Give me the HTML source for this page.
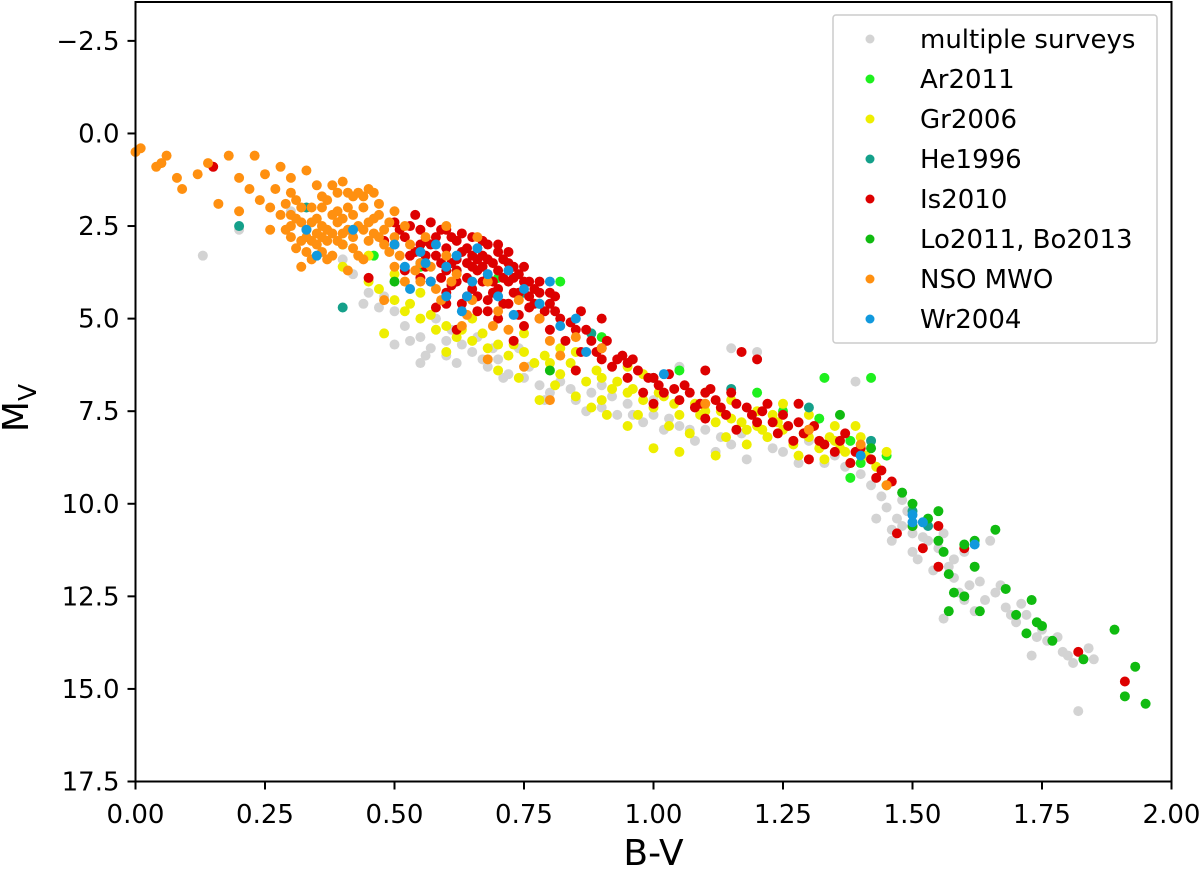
<!DOCTYPE html>
<html><head><meta charset="utf-8"><style>body{margin:0;background:#fff}svg{display:block;font-family:"DejaVu Sans","Liberation Sans",sans-serif}</style></head>
<body>
<svg id="chart" width="1200" height="870" viewBox="0 0 1200 870" xmlns="http://www.w3.org/2000/svg">
<g id="marks"></g>
<g id="axes"></g>
</svg>
<script>
const xTicks=[0,0.25,0.5,0.75,1.0,1.25,1.5,1.75,2.0];
const xTickLabels=["0.00","0.25","0.50","0.75","1.00","1.25","1.50","1.75","2.00"];
const yTicks=[-2.5,0,2.5,5,7.5,10,12.5,15,17.5];
const yTickLabels=["\u22122.5","0.0","2.5","5.0","7.5","10.0","12.5","15.0","17.5"];
const seriesNames=["multiple surveys","Ar2011","Gr2006","He1996","Is2010","Lo2011, Bo2013","NSO MWO","Wr2004"];
const multiSurveys=[[0.13,3.3],[0.2,2.6],[0.33,2.6],[0.4,3.4],[0.45,4.3],[0.48,4.4],[0.5,4.8],[0.52,5.2],[0.55,5.5],[0.57,5.8],[0.6,5.6],[0.6,6.0],[0.62,6.2],[0.65,5.9],[0.68,6.3],[0.7,6.1],[0.72,6.5],[0.75,6.6],[0.78,6.8],[0.8,7.0],[0.82,6.7],[0.85,7.2],[0.88,7.0],[0.9,7.4],[0.93,7.6],[0.95,7.3],[0.98,7.8],[1.0,7.6],[1.02,8.0],[1.05,7.9],[1.08,8.3],[1.1,8.0],[1.12,8.6],[1.15,8.4],[1.18,8.8],[1.2,5.9],[1.15,5.8],[1.22,8.2],[1.25,8.6],[1.3,8.3],[1.35,8.7],[1.39,6.7],[1.4,9.2],[1.42,9.5],[1.44,9.8],[1.45,10.1],[1.47,10.4],[1.48,9.9],[1.5,10.8],[1.52,10.5],[1.53,11.0],[1.55,11.2],[1.56,10.8],[1.58,11.5],[1.6,11.3],[1.62,11.7],[1.63,12.1],[1.65,11.0],[1.66,12.4],[1.68,12.8],[1.7,13.2],[1.72,13.0],[1.75,13.4],[1.78,13.6],[1.8,14.1],[1.82,15.6],[1.84,13.9],[1.85,14.2],[1.56,13.1],[1.6,12.6],[1.73,14.1],[1.48,10.6],[1.5,11.3],[0.3,2.1],[0.35,3.0],[0.42,3.8],[0.58,5.0],[0.66,5.5],[0.74,5.8],[0.55,6.2],[0.5,5.7],[1.46,11.0],[1.54,11.8],[1.64,12.6],[1.58,12.0],[1.81,14.3],[0.9,6.8],[1.0,7.2],[1.05,6.3],[1.28,8.9],[0.53,5.6],[0.56,6.0],[0.63,5.7],[0.67,6.1],[0.71,6.6],[0.76,6.3],[0.79,7.2],[0.84,6.9],[0.87,7.5],[0.92,7.1],[0.96,7.6],[1.03,7.7],[1.07,8.0],[1.13,8.2],[1.17,8.1],[1.23,8.5],[1.27,8.3],[1.33,8.9],[1.37,9.0],[1.43,10.4],[1.46,10.7],[1.51,11.5],[1.57,11.7],[1.61,12.2],[1.67,12.2],[1.69,13.0],[1.74,13.6],[1.76,13.7],[1.79,14.0],[1.83,14.2],[1.59,12.4],[1.62,12.9],[1.52,10.9],[1.49,10.2],[1.71,12.7],[0.47,4.7],[0.44,4.6],[0.61,5.3],[0.69,5.8]];
const ar2011=[[0.4,3.0],[0.46,3.3],[0.55,3.6],[0.62,3.7],[0.7,3.9],[0.78,4.6],[0.82,4.0],[0.9,5.5],[1.05,6.4],[1.2,7.0],[1.25,7.5],[1.32,7.7],[1.38,8.3],[1.4,8.9],[1.45,8.7],[1.38,9.3],[1.33,6.6],[1.42,6.6],[1.45,9.5]];
const gr2006=[[0.4,3.6],[0.45,4.0],[0.48,5.4],[0.5,4.5],[0.52,4.8],[0.55,5.0],[0.58,5.3],[0.6,5.2],[0.62,5.5],[0.65,5.6],[0.68,5.8],[0.7,5.7],[0.72,6.0],[0.75,5.9],[0.77,6.2],[0.8,6.2],[0.82,6.5],[0.85,6.4],[0.87,6.7],[0.9,6.6],[0.9,7.2],[0.92,6.9],[0.95,7.0],[0.95,7.9],[0.98,7.2],[1.0,7.4],[1.0,8.5],[1.02,7.1],[1.05,7.6],[1.07,8.1],[1.1,7.5],[1.12,7.8],[1.12,8.7],[1.15,7.7],[1.18,8.0],[1.2,7.9],[1.22,8.2],[1.25,8.0],[1.27,8.4],[1.3,8.2],[1.32,8.5],[1.35,8.3],[1.37,8.6],[1.38,8.9],[1.4,8.5],[1.42,8.8],[1.43,9.0],[1.1,7.0],[0.98,6.5],[0.82,5.8],[0.78,7.2],[0.6,5.9],[0.7,6.4],[0.85,7.1],[1.05,8.6],[1.25,7.3],[1.3,7.6],[1.35,7.9],[0.55,4.3],[0.65,5.0],[0.75,5.4],[0.85,5.9],[0.95,6.3],[1.15,7.2],[1.2,7.5],[1.4,8.2],[1.45,8.6],[0.88,7.4],[0.97,7.6],[1.08,7.3],[1.18,8.4],[1.33,8.8],[0.45,3.3],[0.5,3.8],[1.39,7.9],[1.28,8.7],[0.47,4.2],[0.53,4.6],[0.57,4.9],[0.63,5.3],[0.67,5.4],[0.73,5.7],[0.79,6.0],[0.84,6.2],[0.89,6.4],[0.93,6.7],[0.96,6.9],[1.01,7.0],[1.04,7.3],[1.09,7.6],[1.13,7.5],[1.17,7.8],[1.21,8.0],[1.24,7.8],[1.29,8.1],[1.34,8.2],[1.36,8.5],[1.41,8.7],[0.74,6.6],[0.81,6.8],[0.91,7.6],[1.03,7.9],[1.14,8.2],[1.23,7.6]];
const he1996=[[0.2,2.5],[0.4,4.7],[0.55,3.5],[0.75,4.3],[0.88,5.4],[1.0,6.6],[1.15,6.9],[1.3,7.4],[1.42,8.3],[1.5,10.2],[1.53,10.6],[0.33,2.0]];
const is2010=[[0.15,0.9],[0.5,2.4],[0.52,2.8],[0.53,3.3],[0.55,2.6],[0.55,3.0],[0.56,3.6],[0.57,4.0],[0.58,2.8],[0.58,3.3],[0.6,2.6],[0.6,3.1],[0.6,3.7],[0.6,4.3],[0.62,2.9],[0.62,3.4],[0.62,4.0],[0.63,4.6],[0.64,3.1],[0.65,2.8],[0.65,3.6],[0.65,4.2],[0.66,4.8],[0.67,3.3],[0.68,3.0],[0.68,3.9],[0.68,4.5],[0.7,3.2],[0.7,3.7],[0.7,4.2],[0.7,5.0],[0.72,3.5],[0.72,4.0],[0.72,4.6],[0.74,3.8],[0.74,4.3],[0.75,5.2],[0.76,4.0],[0.76,4.7],[0.78,4.3],[0.78,5.0],[0.8,5.3],[0.8,4.6],[0.82,5.0],[0.83,5.6],[0.85,5.3],[0.86,5.9],[0.88,5.6],[0.9,6.1],[0.9,5.8],[0.92,6.3],[0.94,6.0],[0.95,6.6],[0.97,6.4],[0.98,7.0],[1.0,6.6],[1.02,7.0],[1.03,6.5],[1.05,7.2],[1.06,6.8],[1.08,7.4],[1.1,7.0],[1.1,7.7],[1.12,7.2],[1.14,7.6],[1.15,7.0],[1.16,8.0],[1.18,7.4],[1.2,7.8],[1.2,6.1],[1.22,7.3],[1.24,8.1],[1.25,7.6],[1.27,8.3],[1.28,7.8],[1.3,8.0],[1.3,8.8],[1.32,8.3],[1.35,8.6],[1.37,8.1],[1.38,8.9],[1.4,8.5],[1.42,8.8],[1.44,9.1],[1.46,9.4],[1.47,10.8],[1.5,10.6],[1.55,10.6],[1.52,11.2],[1.55,11.7],[1.6,11.2],[1.1,6.4],[0.9,5.0],[0.95,6.2],[0.62,5.3],[0.73,5.6],[0.45,3.9],[0.48,2.9],[0.86,4.8],[1.17,5.9],[1.82,14.0],[1.91,14.8],[0.85,6.4],[1.0,7.3],[1.28,7.3],[0.53,2.5],[0.57,2.4],[0.63,2.7],[0.66,3.4],[0.69,3.5],[0.71,3.9],[0.73,4.3],[0.77,4.6],[0.59,3.9],[0.61,4.1],[0.64,4.4],[0.67,4.0],[0.54,3.2],[0.5,3.0],[0.52,3.7],[0.58,4.7],[0.66,3.7],[0.75,3.6],[0.79,4.8],[0.56,2.9],[0.61,3.5],[0.69,4.3],[0.74,4.9],[0.64,3.9],[0.71,4.6],[0.77,4.2],[0.67,2.9],[0.72,3.2],[0.81,4.4],[0.51,2.6],[0.54,2.2],[0.56,3.3],[0.59,2.6],[0.61,2.8],[0.63,3.2],[0.65,3.3],[0.66,4.4],[0.68,3.4],[0.69,4.0],[0.71,3.4],[0.73,3.9],[0.75,4.0],[0.76,4.4],[0.78,4.0],[0.8,4.3],[0.81,4.8],[0.84,5.1],[0.87,5.3],[0.89,5.9],[0.91,5.6],[0.93,6.1],[0.96,6.1],[0.99,6.6],[1.01,6.8],[1.04,6.9],[1.07,7.0],[1.09,7.3],[1.11,6.9],[1.13,7.4],[1.16,7.3],[1.19,7.6],[1.21,7.5],[1.23,7.8],[1.26,7.9],[1.29,8.1],[1.31,7.9],[1.33,8.4],[1.36,8.3],[1.39,8.6],[1.43,9.3],[0.57,3.0],[0.59,3.5],[0.62,3.7],[0.64,3.5],[0.67,3.6],[0.7,3.0],[0.73,3.6],[0.55,3.9],[0.6,4.6],[0.68,4.8]];
const lo2011=[[0.5,4.0],[0.8,6.4],[1.36,7.6],[1.42,8.5],[1.48,9.7],[1.5,10.0],[1.5,10.6],[1.55,10.2],[1.55,11.0],[1.56,11.3],[1.57,11.9],[1.58,12.4],[1.57,12.9],[1.6,12.5],[1.62,11.7],[1.63,12.9],[1.66,10.7],[1.68,12.3],[1.7,13.0],[1.72,13.5],[1.73,12.6],[1.74,13.2],[1.75,13.3],[1.77,13.7],[1.83,14.2],[1.89,13.4],[1.91,15.2],[1.93,14.4],[1.95,15.4],[1.6,11.1],[1.53,10.4],[1.62,11.0]];
const nsoMwo=[[0.0,0.5],[0.01,0.4],[0.04,0.9],[0.05,0.8],[0.06,0.6],[0.08,1.2],[0.09,1.5],[0.12,1.1],[0.14,0.8],[0.16,1.9],[0.18,0.6],[0.2,1.2],[0.2,2.1],[0.22,1.5],[0.23,0.6],[0.24,1.8],[0.25,1.1],[0.26,2.6],[0.27,1.5],[0.28,2.2],[0.28,0.9],[0.3,1.2],[0.3,2.8],[0.31,1.8],[0.32,3.6],[0.32,2.4],[0.33,1.0],[0.34,2.0],[0.35,1.4],[0.35,3.0],[0.36,2.5],[0.37,1.8],[0.38,3.3],[0.38,2.2],[0.39,1.6],[0.4,2.7],[0.4,1.3],[0.41,2.0],[0.42,3.1],[0.43,1.6],[0.43,2.5],[0.44,2.0],[0.45,1.5],[0.45,2.9],[0.46,2.3],[0.47,1.9],[0.48,2.6],[0.49,3.2],[0.5,2.1],[0.5,3.6],[0.52,2.5],[0.53,3.0],[0.55,3.5],[0.56,2.8],[0.58,4.2],[0.6,3.3],[0.62,3.8],[0.63,5.2],[0.65,4.5],[0.68,4.0],[0.7,4.8],[0.72,5.3],[0.74,4.5],[0.78,5.0],[0.8,5.6],[0.82,6.0],[0.85,5.5],[0.9,5.8],[0.75,6.3],[0.68,6.1],[0.55,4.0],[0.44,3.4],[0.36,2.0],[0.33,2.6],[0.3,1.6],[0.38,1.4],[0.42,1.7],[0.46,1.6],[0.5,2.8],[0.52,4.0],[0.66,2.8],[0.6,2.5],[1.1,7.3],[1.3,8.0],[1.4,8.4],[1.45,9.5],[0.8,7.2],[0.48,4.5],[0.26,2.0],[0.29,1.9],[0.34,3.4],[0.41,3.7],[0.37,2.9],[0.39,2.4],[0.47,2.8],[0.32,2.9],[0.35,2.3],[0.37,2.6],[0.4,2.3],[0.42,2.8],[0.36,3.2],[0.31,2.3],[0.44,2.6],[0.33,3.2],[0.3,2.5],[0.31,3.1],[0.32,2.0],[0.33,2.8],[0.34,2.4],[0.35,2.7],[0.36,1.7],[0.37,3.4],[0.38,2.7],[0.39,2.1],[0.4,3.0],[0.41,1.6],[0.41,2.6],[0.42,2.2],[0.43,3.3],[0.44,1.7],[0.45,2.4],[0.46,2.7],[0.47,2.2],[0.48,3.0],[0.49,2.4],[0.51,3.3],[0.54,3.7],[0.57,3.6],[0.59,4.5],[0.61,4.0],[0.64,4.9],[0.69,5.2],[0.34,2.9],[0.36,2.8],[0.39,2.9],[0.3,2.2],[0.29,2.6]];
const wr2004=[[0.33,2.6],[0.35,3.3],[0.42,2.6],[0.5,3.0],[0.52,3.6],[0.53,4.2],[0.55,3.2],[0.57,4.0],[0.58,3.0],[0.6,3.6],[0.6,4.4],[0.62,3.3],[0.63,4.8],[0.65,4.0],[0.66,3.1],[0.68,3.8],[0.7,4.4],[0.72,3.7],[0.73,4.9],[0.75,4.2],[0.78,4.6],[0.8,4.0],[0.82,5.2],[0.85,5.0],[0.87,5.9],[1.02,6.5],[1.4,8.7],[1.5,10.5],[1.5,10.3],[1.52,10.5],[1.62,11.1],[0.56,3.5],[0.64,4.4]];
const seriesData=[multiSurveys,ar2011,gr2006,he1996,is2010,lo2011,nsoMwo,wr2004];
const colors=["#d3d3d3","#1ef01e","#eeee00","#14a08a","#dd0000","#10bb10","#ff9010","#1199dd"];
const slugs=["multiple-surveys","ar2011","gr2006","he1996","is2010","lo2011-bo2013","nso-mwo","wr2004"];

const NS="http://www.w3.org/2000/svg";
const L=135.5,R=1171.5,T=2,B=781.5,xMin=0,xMax=2,yMin=-3.55,yMax=17.5;
const sx=v=>L+(v-xMin)/(xMax-xMin)*(R-L);
const sy=v=>T+(v-yMin)/(yMax-yMin)*(B-T);
function mk(tag,attrs,parent){const e=document.createElementNS(NS,tag);for(const k in attrs)e.setAttribute(k,attrs[k]);parent.appendChild(e);return e;}
const marks=document.getElementById('marks'),axes=document.getElementById('axes');
seriesData.forEach((arr,si)=>{
  const g=mk('g',{fill:colors[si]},marks);
  
  
  arr.forEach(p=>{
    const c=mk('circle',{cx:sx(p[0]),cy:sy(p[1]),r:5},g);
    
    
  });
});
const frame=mk('rect',{x:L,y:T,width:R-L,height:B-T,fill:'none',stroke:'#000','stroke-width':2},axes);


xTicks.forEach((v,i)=>{
  const x=sx(v);
  mk('line',{x1:x,x2:x,y1:B,y2:B+8,stroke:'#000','stroke-width':2},axes);
  const t=mk('text',{x:x,y:823,'text-anchor':'middle','font-size':26},axes);
  t.textContent=xTickLabels[i];
  
  
});
yTicks.forEach((v,i)=>{
  const y=sy(v);
  mk('line',{x1:L-8,x2:L,y1:y,y2:y,stroke:'#000','stroke-width':2},axes);
  const t=mk('text',{x:L-16,y:y+9,'text-anchor':'end','font-size':26},axes);
  t.textContent=yTickLabels[i];
  
  
});
const xt=mk('text',{x:(L+R)/2,y:865,'text-anchor':'middle','font-size':36},axes);
xt.textContent='B-V';


const yt=mk('text',{transform:'translate(28,408) rotate(-90)','text-anchor':'middle','font-size':36},axes);
yt.innerHTML='M<tspan font-size="25" dy="8">V</tspan>';


const lg=mk('g',{},axes);


mk('rect',{x:833,y:15,width:324,height:328,rx:3,fill:'#fff','fill-opacity':0.8,stroke:'#ccc','stroke-width':1.5},lg);
seriesNames.forEach((n,i)=>{
  const y=39+i*40;
  const e=mk('g',{},lg);
  
  
  mk('circle',{cx:870,cy:y,r:4.5,fill:colors[i]},e);
  const t=mk('text',{x:920,y:y+9,'font-size':26},e);
  t.textContent=n;
});
</script>
</body></html>
